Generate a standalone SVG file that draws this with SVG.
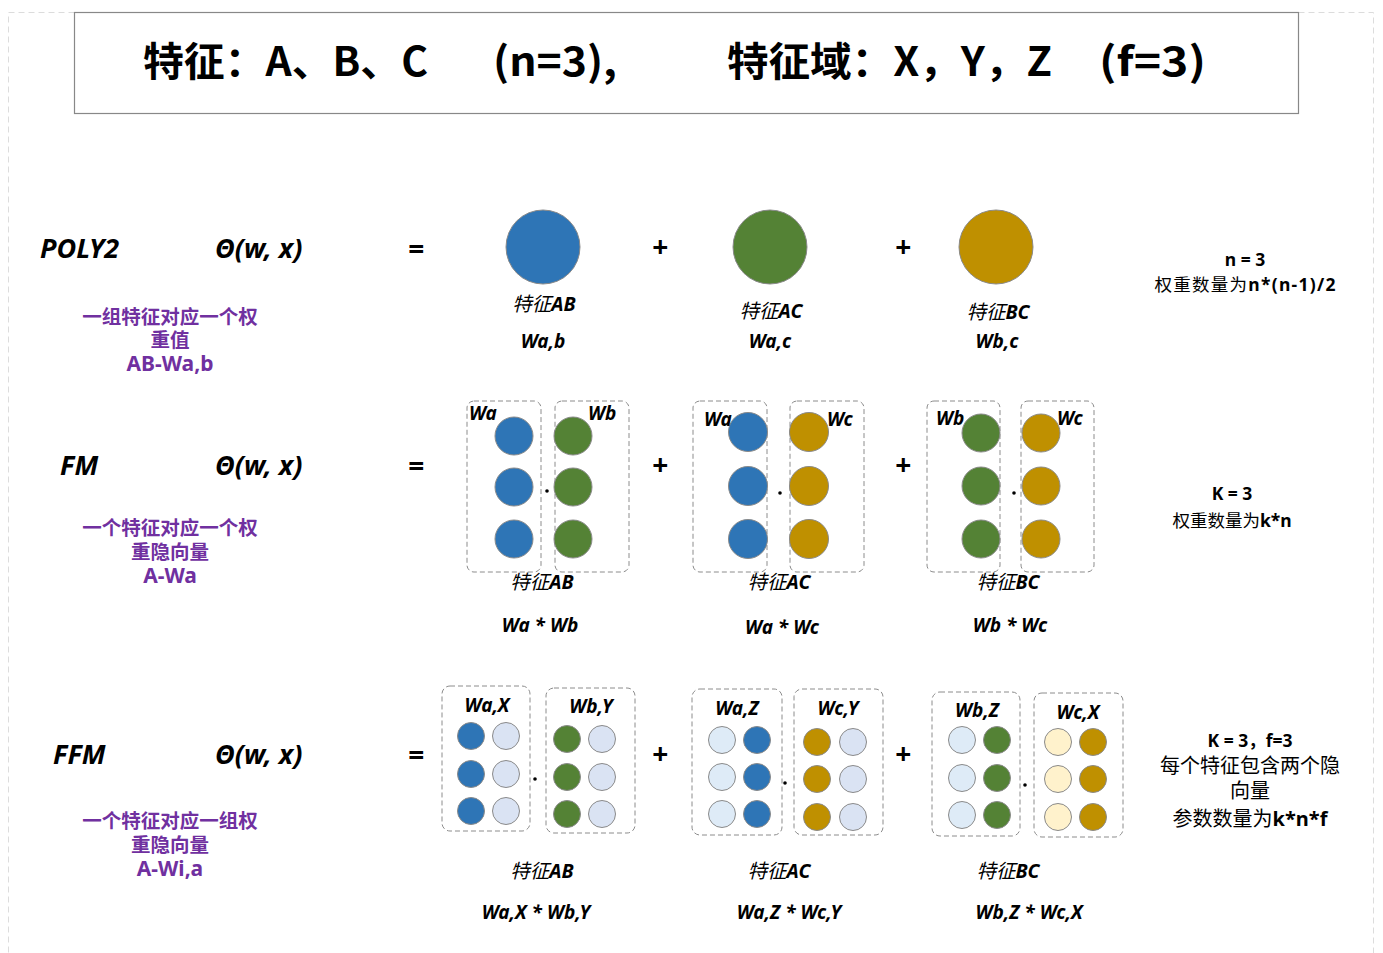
<svg xmlns="http://www.w3.org/2000/svg" width="1383" height="953" viewBox="0 0 1383 953">
<style>
.title{font-family:"Noto Sans CJK SC","Noto Sans",sans-serif;font-weight:bold;font-size:40px;fill:#000}
.lbl{font-family:"Noto Sans","Noto Sans CJK SC",sans-serif;font-weight:bold;font-style:italic;font-size:27px;fill:#000}
.op{font-family:"Noto Sans",sans-serif;font-weight:bold;font-style:italic;font-size:28px;fill:#000;text-anchor:middle}
.pur{font-family:"Noto Sans CJK SC",sans-serif;font-weight:bold;font-size:19.5px;fill:#7030A0;text-anchor:middle}
.pur .b{font-family:"Noto Sans",sans-serif;font-size:21px}
.cap{font-family:"Noto Sans CJK SC",sans-serif;font-style:italic;font-size:19.5px;fill:#000;text-anchor:middle}
.cap tspan.b{font-family:"Noto Sans",sans-serif;font-weight:bold}
.w{font-family:"Noto Sans",sans-serif;font-weight:bold;font-style:italic;font-size:19px;fill:#000;text-anchor:middle}
.wl{font-family:"Noto Sans",sans-serif;font-weight:bold;font-style:italic;font-size:19px;fill:#000}
.note{font-family:"Noto Sans CJK SC",sans-serif;font-size:17.5px;fill:#000;text-anchor:middle}
.note2{font-family:"Noto Sans CJK SC",sans-serif;font-size:20px;fill:#000;text-anchor:middle}
.b{font-family:"Noto Sans","Noto Sans CJK SC",sans-serif;font-weight:bold}
.box{fill:none;stroke:#8c8c8c;stroke-width:1;stroke-dasharray:5 3}
.blue{fill:#2E75B6;stroke:#8a8a8a;stroke-width:1}
.green{fill:#548235;stroke:#8a8a8a;stroke-width:1}
.gold{fill:#BF9000;stroke:#8a8a8a;stroke-width:1}
.lav{fill:#DAE3F3;stroke:#8a8a8a;stroke-width:1}
.lb{fill:#DEEBF7;stroke:#8a8a8a;stroke-width:1}
.ly{fill:#FFF2CC;stroke:#8a8a8a;stroke-width:1}
.dot{fill:#000}
</style>
<rect x="8.5" y="12.5" width="1365" height="950" fill="none" stroke="#dcdcdc" stroke-dasharray="6 4"/>
<g id="header">
<rect x="74.5" y="12.5" width="1224" height="101" fill="#fff" stroke="#888" stroke-width="1.2"/>
<text class="title" x="143" y="76" textLength="285" lengthAdjust="spacingAndGlyphs">特征：A、B、C</text>
<text class="title" x="493" y="76" textLength="124" lengthAdjust="spacingAndGlyphs">(n=3),</text>
<text class="title" x="727" y="76" textLength="325" lengthAdjust="spacingAndGlyphs">特征域：X，Y，Z</text>
<text class="title" x="1099" y="76" textLength="107" lengthAdjust="spacingAndGlyphs">(f=3)</text>
</g>

<g id="poly2">
<text class="lbl" x="40" y="258">POLY2</text>
<text class="lbl" x="215" y="258">Θ(w, x)</text>
<text class="op" x="416" y="259">=</text>
<text class="pur" x="170" y="324">一组特征对应一个权</text>
<text class="pur" x="170" y="347">重值</text>
<text class="pur" x="170" y="371"><tspan class="b">AB-Wa,b</tspan></text>
<circle class="blue" cx="543" cy="247" r="37"/>
<circle class="green" cx="770" cy="247" r="37"/>
<circle class="gold" cx="996" cy="247" r="37"/>
<text class="op" x="660" y="257">+</text>
<text class="op" x="903" y="257">+</text>
<text class="cap" x="544" y="311">特征<tspan class="b">AB</tspan></text>
<text class="cap" x="771" y="318">特征<tspan class="b">AC</tspan></text>
<text class="cap" x="998" y="319">特征<tspan class="b">BC</tspan></text>
<text class="w" x="543" y="348">Wa,b</text>
<text class="w" x="770" y="348">Wa,c</text>
<text class="w" x="997" y="348">Wb,c</text>
<text class="note" x="1245" y="266"><tspan class="b">n = 3</tspan></text>
<text class="note" x="1245" y="291" textLength="181" lengthAdjust="spacing">权重数量为<tspan class="b">n*(n-1)/2</tspan></text>
</g>

<g id="fm">
<text class="lbl" x="60" y="475">FM</text>
<text class="lbl" x="215" y="475">Θ(w, x)</text>
<text class="op" x="416" y="476">=</text>
<text class="pur" x="170" y="535">一个特征对应一个权</text>
<text class="pur" x="170" y="559">重隐向量</text>
<text class="pur" x="170" y="583"><tspan class="b">A-Wa</tspan></text>
<text class="op" x="660" y="475">+</text>
<text class="op" x="903" y="475">+</text>
</g>
<g id="fm-ab">
<rect class="box" x="467" y="401" width="74" height="171" rx="7"/>
<rect class="box" x="555" y="401" width="74" height="171" rx="7"/>
<circle class="blue" cx="514" cy="436" r="19"/><circle class="blue" cx="514" cy="487" r="19"/><circle class="blue" cx="514" cy="539" r="19"/>
<circle class="green" cx="573" cy="436" r="19"/><circle class="green" cx="573" cy="487" r="19"/><circle class="green" cx="573" cy="539" r="19"/>
<circle class="dot" cx="547" cy="491" r="1.8"/>
<text class="wl" x="469" y="420">Wa</text>
<text class="wl" x="588" y="420">Wb</text>
<text class="cap" x="542" y="589">特征<tspan class="b">AB</tspan></text>
<text class="w" x="540" y="632">Wa * Wb</text>
</g>
<g id="fm-ac">
<rect class="box" x="693" y="401" width="74" height="171" rx="7"/>
<rect class="box" x="790" y="401" width="74" height="171" rx="7"/>
<circle class="blue" cx="748" cy="432" r="19.5"/><circle class="blue" cx="748" cy="486" r="19.5"/><circle class="blue" cx="748" cy="539" r="19.5"/>
<circle class="gold" cx="809" cy="432" r="19.5"/><circle class="gold" cx="809" cy="486" r="19.5"/><circle class="gold" cx="809" cy="539" r="19.5"/>
<circle class="dot" cx="780" cy="493" r="1.8"/>
<text class="wl" x="704" y="426">Wa</text>
<text class="wl" x="827" y="426">Wc</text>
<text class="cap" x="779" y="589">特征<tspan class="b">AC</tspan></text>
<text class="w" x="782" y="634">Wa * Wc</text>
</g>
<g id="fm-bc">
<rect class="box" x="927" y="401" width="73" height="171" rx="7"/>
<rect class="box" x="1021" y="401" width="73" height="171" rx="7"/>
<circle class="green" cx="981" cy="433" r="19"/><circle class="green" cx="981" cy="486" r="19"/><circle class="green" cx="981" cy="539" r="19"/>
<circle class="gold" cx="1041" cy="433" r="19"/><circle class="gold" cx="1041" cy="486" r="19"/><circle class="gold" cx="1041" cy="539" r="19"/>
<circle class="dot" cx="1014" cy="493" r="1.8"/>
<text class="wl" x="936" y="425">Wb</text>
<text class="wl" x="1057" y="425">Wc</text>
<text class="cap" x="1008" y="589">特征<tspan class="b">BC</tspan></text>
<text class="w" x="1010" y="632">Wb * Wc</text>
</g>
<g id="fm-note">
<text class="note" x="1232" y="500"><tspan class="b">K = 3</tspan></text>
<text class="note" x="1232" y="527">权重数量为<tspan class="b">k*n</tspan></text>
</g>

<g id="ffm">
<text class="lbl" x="53" y="764">FFM</text>
<text class="lbl" x="215" y="764">Θ(w, x)</text>
<text class="op" x="416" y="765">=</text>
<text class="pur" x="170" y="828">一个特征对应一组权</text>
<text class="pur" x="170" y="852">重隐向量</text>
<text class="pur" x="170" y="876"><tspan class="b">A-Wi,a</tspan></text>
<text class="op" x="660" y="764">+</text>
<text class="op" x="903" y="764">+</text>
</g>
<g id="ffm-ab">
<rect class="box" x="442" y="686" width="88" height="145" rx="8"/>
<rect class="box" x="546" y="688" width="89" height="145" rx="8"/>
<circle class="blue" cx="471" cy="736" r="13.5"/><circle class="blue" cx="471" cy="774" r="13.5"/><circle class="blue" cx="471" cy="811" r="13.5"/>
<circle class="lav" cx="506" cy="736" r="13.5"/><circle class="lav" cx="506" cy="774" r="13.5"/><circle class="lav" cx="506" cy="811" r="13.5"/>
<circle class="green" cx="567" cy="739" r="13.5"/><circle class="green" cx="567" cy="777" r="13.5"/><circle class="green" cx="567" cy="814" r="13.5"/>
<circle class="lav" cx="602" cy="739" r="13.5"/><circle class="lav" cx="602" cy="777" r="13.5"/><circle class="lav" cx="602" cy="814" r="13.5"/>
<circle class="dot" cx="535" cy="779" r="1.8"/>
<text class="w" x="487" y="712">Wa,X</text>
<text class="w" x="591" y="713">Wb,Y</text>
<text class="cap" x="542" y="878">特征<tspan class="b">AB</tspan></text>
<text class="w" x="536" y="919">Wa,X * Wb,Y</text>
</g>
<g id="ffm-ac">
<rect class="box" x="692" y="689" width="90" height="146" rx="8"/>
<rect class="box" x="794" y="689" width="89" height="146" rx="8"/>
<circle class="lb" cx="722" cy="740" r="13.5"/><circle class="lb" cx="722" cy="777" r="13.5"/><circle class="lb" cx="722" cy="814" r="13.5"/>
<circle class="blue" cx="757" cy="740" r="13.5"/><circle class="blue" cx="757" cy="777" r="13.5"/><circle class="blue" cx="757" cy="814" r="13.5"/>
<circle class="gold" cx="817" cy="742" r="13.5"/><circle class="gold" cx="817" cy="779" r="13.5"/><circle class="gold" cx="817" cy="817" r="13.5"/>
<circle class="lav" cx="853" cy="742" r="13.5"/><circle class="lav" cx="853" cy="779" r="13.5"/><circle class="lav" cx="853" cy="817" r="13.5"/>
<circle class="dot" cx="785" cy="783" r="1.8"/>
<text class="w" x="737" y="715">Wa,Z</text>
<text class="w" x="838" y="715">Wc,Y</text>
<text class="cap" x="779" y="878">特征<tspan class="b">AC</tspan></text>
<text class="w" x="789" y="919">Wa,Z * Wc,Y</text>
</g>
<g id="ffm-bc">
<rect class="box" x="932" y="692" width="88" height="144" rx="8"/>
<rect class="box" x="1034" y="693" width="89" height="144" rx="8"/>
<circle class="lb" cx="962" cy="740" r="13.5"/><circle class="lb" cx="962" cy="778" r="13.5"/><circle class="lb" cx="962" cy="815" r="13.5"/>
<circle class="green" cx="997" cy="740" r="13.5"/><circle class="green" cx="997" cy="778" r="13.5"/><circle class="green" cx="997" cy="815" r="13.5"/>
<circle class="ly" cx="1058" cy="742" r="13.5"/><circle class="ly" cx="1058" cy="779" r="13.5"/><circle class="ly" cx="1058" cy="817" r="13.5"/>
<circle class="gold" cx="1093" cy="742" r="13.5"/><circle class="gold" cx="1093" cy="779" r="13.5"/><circle class="gold" cx="1093" cy="817" r="13.5"/>
<circle class="dot" cx="1025" cy="785" r="1.8"/>
<text class="w" x="977" y="717">Wb,Z</text>
<text class="w" x="1078" y="719">Wc,X</text>
<text class="cap" x="1008" y="878">特征<tspan class="b">BC</tspan></text>
<text class="w" x="1029" y="919">Wb,Z * Wc,X</text>
</g>
<g id="ffm-note">
<text class="note" x="1250" y="747"><tspan class="b">K = 3，f=3</tspan></text>
<text class="note2" x="1250" y="773">每个特征包含两个隐</text>
<text class="note2" x="1250" y="798">向量</text>
<text class="note2" x="1250" y="826">参数数量为<tspan class="b">k*n*f</tspan></text>
</g>
<g id="connectors"></g>
</svg>
